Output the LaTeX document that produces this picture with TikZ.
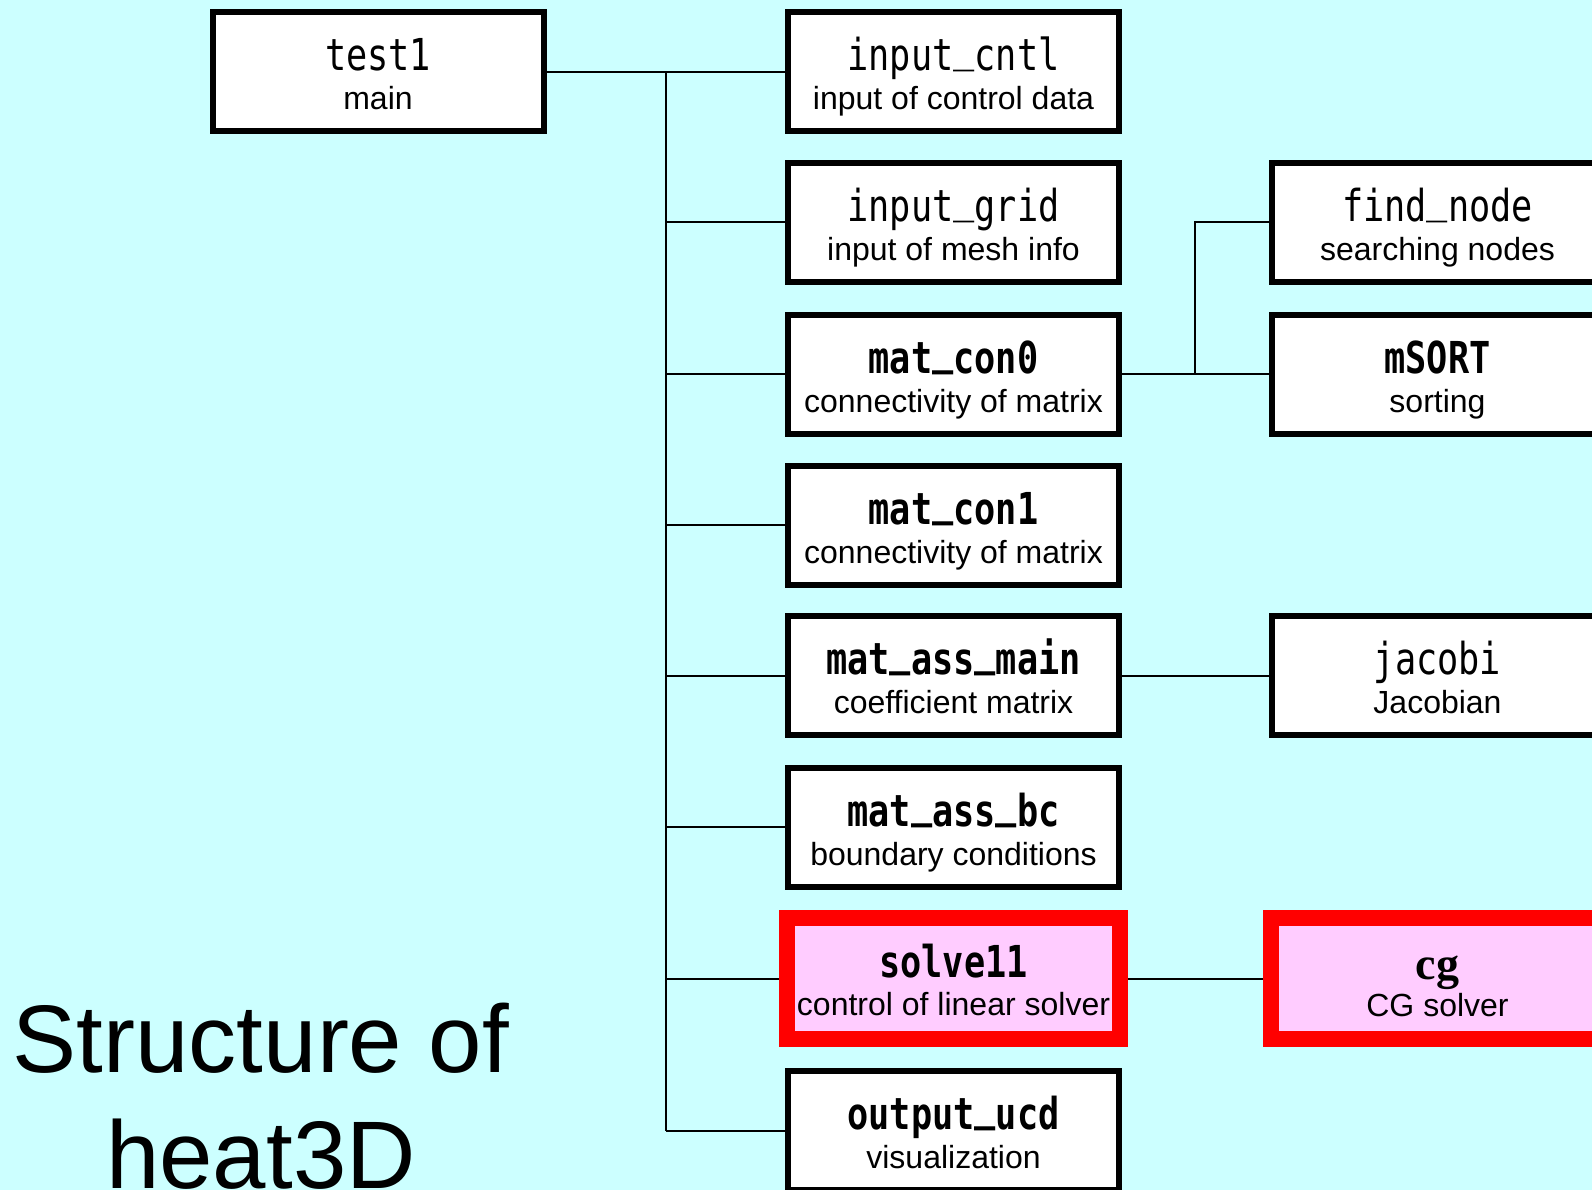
\documentclass[tikz,border=0pt]{standalone}
\usepackage{fontspec}
\setmainfont{Liberation Sans}
\newfontfamily\codefont[FakeStretch=0.8]{DejaVu Sans Mono}
\newfontfamily\cgfont{Liberation Serif}
\newcommand{\usc}{\raisebox{9pt}{\_}}
\definecolor{bgcyan}{HTML}{CCFFFF}
\definecolor{pinkfill}{HTML}{FFCCFF}
\definecolor{redline}{HTML}{FF0000}
\tikzset{
  box/.style={draw=black, line width=6pt, fill=white, minimum width=331pt, minimum height=119pt, inner sep=0pt},
  redbox/.style={draw=redline, line width=16pt, fill=pinkfill, minimum width=333pt, minimum height=121pt, inner sep=0pt},
  codetxt/.style={anchor=base, inner sep=0pt, font=\codefont\fontsize{44}{48}\selectfont},
  codebold/.style={codetxt, font=\codefont\bfseries\fontsize{44}{48}\selectfont},
  cgtxt/.style={anchor=base, inner sep=0pt, font=\cgfont\bfseries\fontsize{46}{50}\selectfont},
  subtxt/.style={anchor=base, inner sep=0pt, font=\fontsize{32}{36}\selectfont},
  titletxt/.style={anchor=base, inner sep=0pt, font=\fontsize{96}{112}\selectfont},
  conn/.style={draw=black, line width=2pt}
}
\begin{document}
\begin{tikzpicture}[x=1pt, y=-1pt]
\useasboundingbox (0,0) rectangle (1592,1190);
\clip (0,0) rectangle (1592,1190);
\fill[bgcyan] (0,0) rectangle (1592,1190);

% boxes
\node[box] (t1) at (378,72) {};
\node[box] (ic) at (953.5,72) {};
\node[box] (ig) at (953.5,222.5) {};
\node[box] (mc0) at (953.5,374) {};
\node[box] (mc1) at (953.5,525) {};
\node[box] (mam) at (953.5,675.5) {};
\node[box] (mab) at (953.5,827) {};
\node[redbox] (sv) at (953.5,978.5) {};
\node[box] (ou) at (953.5,1130.5) {};
\node[box] (fn) at (1437.5,222.5) {};
\node[box] (ms) at (1437.5,374) {};
\node[box] (jc) at (1437.5,675.5) {};
\node[redbox] (cg) at (1437.5,978.5) {};

% texts
\node[codetxt] (t1a) at ([yshift=1pt]t1.center) {test1};
\node[subtxt]  (t1b) at ([yshift=-38pt]t1.center) {main};
\node[codetxt] (ica) at ([yshift=1pt]ic.center) {input\usc cntl};
\node[subtxt]  (icb) at ([yshift=-38pt]ic.center) {input of control data};
\node[codetxt] (iga) at ([yshift=1pt]ig.center) {input\usc grid};
\node[subtxt]  (igb) at ([yshift=-38pt]ig.center) {input of mesh info};
\node[codebold] (mc0a) at ([yshift=1pt]mc0.center) {mat\usc con0};
\node[subtxt]  (mc0b) at ([yshift=-38pt]mc0.center) {connectivity of matrix};
\node[codebold] (mc1a) at ([yshift=1pt]mc1.center) {mat\usc con1};
\node[subtxt]  (mc1b) at ([yshift=-38pt]mc1.center) {connectivity of matrix};
\node[codebold] (mama) at ([yshift=1pt]mam.center) {mat\usc ass\usc main};
\node[subtxt]  (mamb) at ([yshift=-38pt]mam.center) {coefficient matrix};
\node[codebold] (maba) at ([yshift=1pt]mab.center) {mat\usc ass\usc bc};
\node[subtxt]  (mabb) at ([yshift=-38pt]mab.center) {boundary conditions};
\node[codebold] (sva) at ([yshift=1pt]sv.center) {solve11};
\node[subtxt]  (svb) at ([yshift=-37pt]sv.center) {control of linear solver};
\node[codebold] (oua) at ([yshift=1pt]ou.center) {output\usc ucd};
\node[subtxt]  (oub) at ([yshift=-38pt]ou.center) {visualization};
\node[codetxt] (fna) at ([yshift=1pt]fn.center) {find\usc node};
\node[subtxt]  (fnb) at ([yshift=-38pt]fn.center) {searching nodes};
\node[codebold] (msa) at ([yshift=1pt]ms.center) {mSORT};
\node[subtxt]  (msb) at ([yshift=-38pt]ms.center) {sorting};
\node[codetxt] (jca) at ([yshift=1pt]jc.center) {jacobi};
\node[subtxt]  (jcb) at ([yshift=-38pt]jc.center) {Jacobian};
\node[cgtxt]   (cga) at ([yshift=-1pt]cg.center) {cg};
\node[subtxt]  (cgb) at ([yshift=-38pt]cg.center) {CG solver};

% title
\node[titletxt] (ttl1) at (261,1072) {Structure of};
\node[titletxt] (ttl2) at (261,1188) {heat3D};

% connectors
\coordinate (trA) at (666,72);
\coordinate (trB) at (666,1130.5);
\coordinate (tr2) at (1195,0);
\draw[conn] (t1.east) -- (ic.west);
\draw[conn] (trA) -- (trB);
\foreach \n in {ig,mc0,mc1,mam,mab,sv,ou} {
  \draw[conn] (trA |- \n.west) -- (\n.west);
}
\draw[conn] (mc0.east) -- (ms.west);
\draw[conn] (tr2 |- mc0.east) |- (fn.west);
\draw[conn] (mam.east) -- (jc.west);
\draw[conn] (sv.east) -- (cg.west);
\end{tikzpicture}
\end{document}
